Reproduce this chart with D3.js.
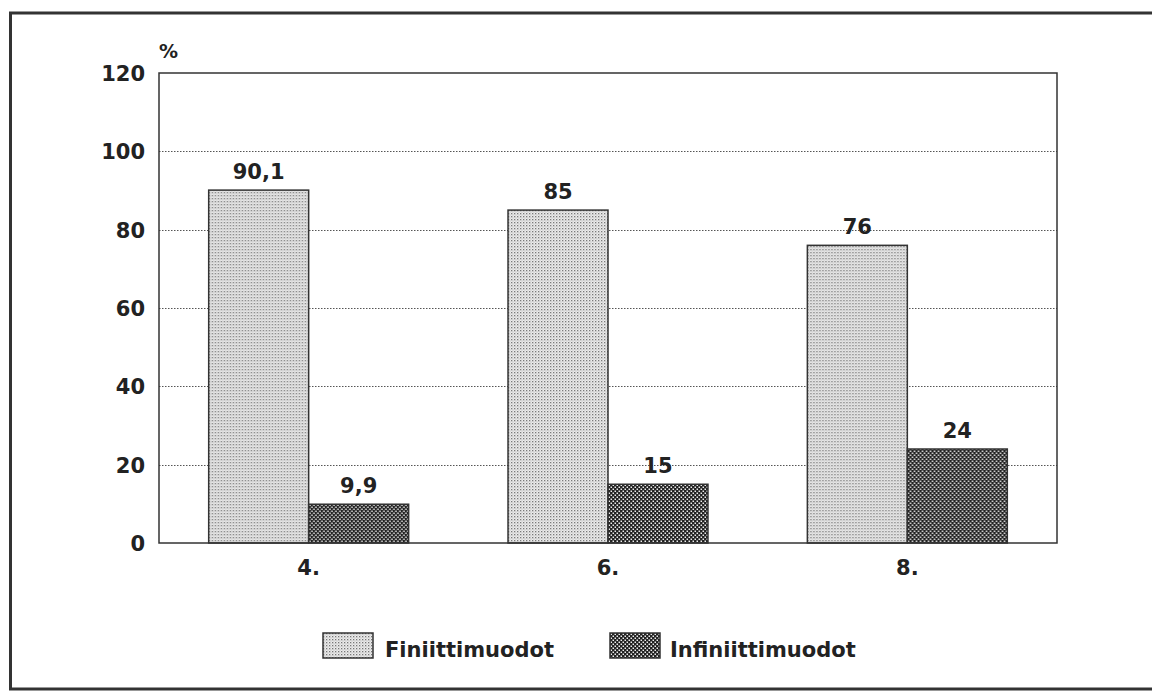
<!DOCTYPE html>
<html>
<head>
<meta charset="utf-8">
<script src="https://cdn.jsdelivr.net/npm/d3@7"></script>
<style>
  html, body { margin: 0; padding: 0; background: #fff; }
  svg { display: block; }
  text { font-family: "DejaVu Sans", sans-serif; font-weight: bold; fill: #222; }
</style>
</head>
<body>
<svg id="chart" width="1152" height="691"></svg>
<script>
const categories = ["4.", "6.", "8."];
const seriesNames = ["Finiittimuodot", "Infiniittimuodot"];
const finiteValues = [90.1, 85, 76];
const infiniteValues = [9.9, 15, 24];
const valueLabels = [["90,1", "85", "76"], ["9,9", "15", "24"]];
const yTicks = [0, 20, 40, 60, 80, 100, 120];

const svg = d3.select("#chart");
const W = 1152, H = 691;
const m = { left: 159, right: W - 1057, top: 73, bottom: H - 543 };

// patterns
const defs = svg.append("defs");
const p1 = defs.append("pattern").attr("id", "pFin").attr("patternUnits", "userSpaceOnUse")
  .attr("width", 3).attr("height", 3);
p1.append("rect").attr("width", 3).attr("height", 3).attr("fill", "#ececec");
p1.append("rect").attr("x", 0).attr("y", 0).attr("width", 1.3).attr("height", 1.3).attr("fill", "#777");
p1.append("rect").attr("x", 1.5).attr("y", 1.5).attr("width", 1).attr("height", 1).attr("fill", "#aaa");
const p2 = defs.append("pattern").attr("id", "pInf").attr("patternUnits", "userSpaceOnUse")
  .attr("width", 4).attr("height", 4);
p2.append("rect").attr("width", 4).attr("height", 4).attr("fill", "#222");
p2.append("rect").attr("x", 0.5).attr("y", 0.5).attr("width", 1.5).attr("height", 1.5).attr("fill", "#eee");
p2.append("rect").attr("x", 2.5).attr("y", 2.5).attr("width", 1.5).attr("height", 1.5).attr("fill", "#eee");
const fills = ["url(#pFin)", "url(#pInf)"];

// outer frame
svg.append("rect").attr("x", 10.5).attr("y", 13).attr("width", 1160).attr("height", 676)
  .attr("fill", "none").attr("stroke", "#333").attr("stroke-width", 3);

const x0 = d3.scaleBand().domain(categories).range([m.left, W - m.right]).paddingInner(0.332).paddingOuter(0.166);
const x1 = d3.scaleBand().domain(seriesNames).range([0, x0.bandwidth()]);
const y = d3.scaleLinear().domain([0, 120]).range([H - m.bottom, m.top]);

// gridlines
svg.append("g").selectAll("line").data(yTicks.filter(t => t > 0 && t < 120)).join("line")
  .attr("x1", m.left).attr("x2", W - m.right)
  .attr("y1", d => Math.round(y(d)) + 0.5).attr("y2", d => Math.round(y(d)) + 0.5)
  .attr("stroke", "#555").attr("stroke-width", 1).attr("stroke-dasharray", "1.5,1.5");

// bars
const data = categories.map((c, i) => ({ cat: c, vals: [finiteValues[i], infiniteValues[i]], labels: [valueLabels[0][i], valueLabels[1][i]] }));
const groups = svg.append("g").selectAll("g").data(data).join("g")
  .attr("transform", d => `translate(${x0(d.cat)},0)`);
groups.selectAll("rect").data(d => d.vals.map((v, j) => ({ v, j }))).join("rect")
  .attr("x", d => x1(seriesNames[d.j]))
  .attr("y", d => y(d.v))
  .attr("width", x1.bandwidth())
  .attr("height", d => y(0) - y(d.v))
  .attr("fill", d => fills[d.j])
  .attr("stroke", "#333").attr("stroke-width", 1.5);
groups.selectAll("text.val").data(d => d.vals.map((v, j) => ({ v, j, l: d.labels[j] }))).join("text")
  .attr("class", "val")
  .attr("x", d => x1(seriesNames[d.j]) + x1.bandwidth() / 2)
  .attr("y", d => y(d.v) - 11)
  .attr("text-anchor", "middle").attr("font-size", 21)
  .text(d => d.l);

// plot frame
svg.append("rect").attr("x", m.left).attr("y", m.top)
  .attr("width", W - m.left - m.right).attr("height", H - m.top - m.bottom)
  .attr("fill", "none").attr("stroke", "#333").attr("stroke-width", 1.5);

// y axis
const yAxis = d3.axisLeft(y).tickValues(yTicks).tickSize(0).tickPadding(14).tickFormat(d3.format("d"));
const ga = svg.append("g").attr("transform", `translate(${m.left},0)`).call(yAxis);
ga.select(".domain").remove();
ga.selectAll("text").attr("font-size", 21).attr("font-family", "DejaVu Sans").attr("font-weight", "bold").attr("fill", "#222").attr("dy", "0.36em");

// x axis
const xAxis = d3.axisBottom(x0).tickSize(0).tickPadding(17);
const gx = svg.append("g").attr("transform", `translate(0,${H - m.bottom})`).call(xAxis);
gx.select(".domain").remove();
gx.selectAll("text").attr("font-size", 21).attr("font-family", "DejaVu Sans").attr("font-weight", "bold").attr("fill", "#222");

// % label
svg.append("text").attr("x", 159).attr("y", 58).attr("font-size", 19).text("%");

// legend
const legendX = [323, 610];
const lg = svg.append("g").selectAll("g").data(seriesNames).join("g")
  .attr("transform", (d, i) => `translate(${legendX[i]},633)`);
lg.append("rect").attr("width", 50).attr("height", 25).attr("fill", (d, i) => fills[i])
  .attr("stroke", "#333").attr("stroke-width", 1.5);
lg.append("text").attr("x", (d, i) => i === 0 ? 62 : 60).attr("y", 24).attr("font-size", 21).text(d => d);
</script>
</body>
</html>
